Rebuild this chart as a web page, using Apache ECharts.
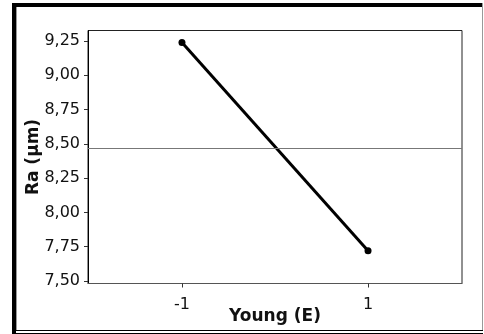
<!DOCTYPE html>
<html>
<head>
<meta charset="utf-8">
<script src="https://cdn.jsdelivr.net/npm/echarts@6/dist/echarts.min.js"></script>
<style>
  html, body { margin: 0; padding: 0; background: #fff; }
  #chart { width: 484px; height: 334px; }
</style>
</head>
<body>
<div id="chart"></div>
<script>
// main effect plot: Ra vs Young (E)
const levels = [-1, 1];
const raMeans = [9.24, 7.72];
const grandMean = 8.475;
const yTicks = [7.5, 7.75, 8.0, 8.25, 8.5, 8.75, 9.0, 9.25];
const xTicks = [-1, 1];

const chart = echarts.init(document.getElementById('chart'), null, { renderer: 'canvas' });
const font = 'DejaVu Sans';

const option = {
  backgroundColor: '#fff',
  animation: false,
  grid: {
    left: 88, right: 22, top: 30.5, bottom: 50.5,
    outerBoundsMode: 'none',
    show: true, borderColor: '#222', borderWidth: 1
  },
  xAxis: {
    type: 'value',
    min: -2.01, max: 2.01,
    name: 'Young (E)',
    nameLocation: 'middle',
    nameGap: 25,
    nameMoveOverlap: false,
    nameTextStyle: { fontFamily: font, fontSize: 17, fontWeight: 'bold', color: '#111' },
    axisLine: { show: true, onZero: false, lineStyle: { color: '#555', width: 1 } },
    axisTick: { show: true, length: 4, customValues: xTicks, lineStyle: { color: '#333' } },
    axisLabel: { customValues: xTicks, margin: 13, fontFamily: font, fontSize: 16, color: '#111' },
    splitLine: { show: false }
  },
  yAxis: {
    type: 'value',
    min: 7.482, max: 9.327,
    name: 'Ra (µm)',
    nameLocation: 'middle',
    nameGap: 46,
    nameRotate: 90,
    nameMoveOverlap: false,
    nameTextStyle: { fontFamily: font, fontSize: 17, fontWeight: 'bold', color: '#111' },
    axisLine: { show: true, onZero: false, lineStyle: { color: '#000', width: 1 } },
    axisTick: { show: true, length: 4, customValues: yTicks, lineStyle: { color: '#333' } },
    axisLabel: {
      customValues: yTicks, margin: 8, fontFamily: font, fontSize: 16, color: '#111',
      formatter: v => v.toFixed(2).replace('.', ',')
    },
    splitLine: { show: false }
  },
  graphic: [
    { type: 'rect', shape: { x: 12, y: 3, width: 4, height: 331 }, style: { fill: '#000' } },
    { type: 'rect', shape: { x: 12, y: 3, width: 471, height: 4 }, style: { fill: '#000' } },
    { type: 'line', shape: { x1: 16.5, y1: 7, x2: 16.5, y2: 330 }, style: { stroke: '#999', lineWidth: 1 } },
    { type: 'line', shape: { x1: 482.5, y1: 3, x2: 482.5, y2: 330 }, style: { stroke: '#999', lineWidth: 1 } },
    { type: 'line', shape: { x1: 16, y1: 330.5, x2: 483, y2: 330.5 }, style: { stroke: '#000', lineWidth: 1 } },
    { type: 'line', shape: { x1: 16, y1: 333.5, x2: 483, y2: 333.5 }, style: { stroke: '#000', lineWidth: 1 } }
  ],
  series: [{
    type: 'line',
    data: levels.map((x, i) => [x, raMeans[i]]),
    symbol: 'circle',
    symbolSize: 7,
    itemStyle: { color: '#000' },
    lineStyle: { color: '#000', width: 3 },
    markLine: {
      silent: true,
      symbol: 'none',
      label: { show: false },
      lineStyle: { color: '#777', width: 1, type: 'solid' },
      data: [{ yAxis: grandMean }]
    }
  }]
};

chart.setOption(option);
</script>
</body>
</html>
